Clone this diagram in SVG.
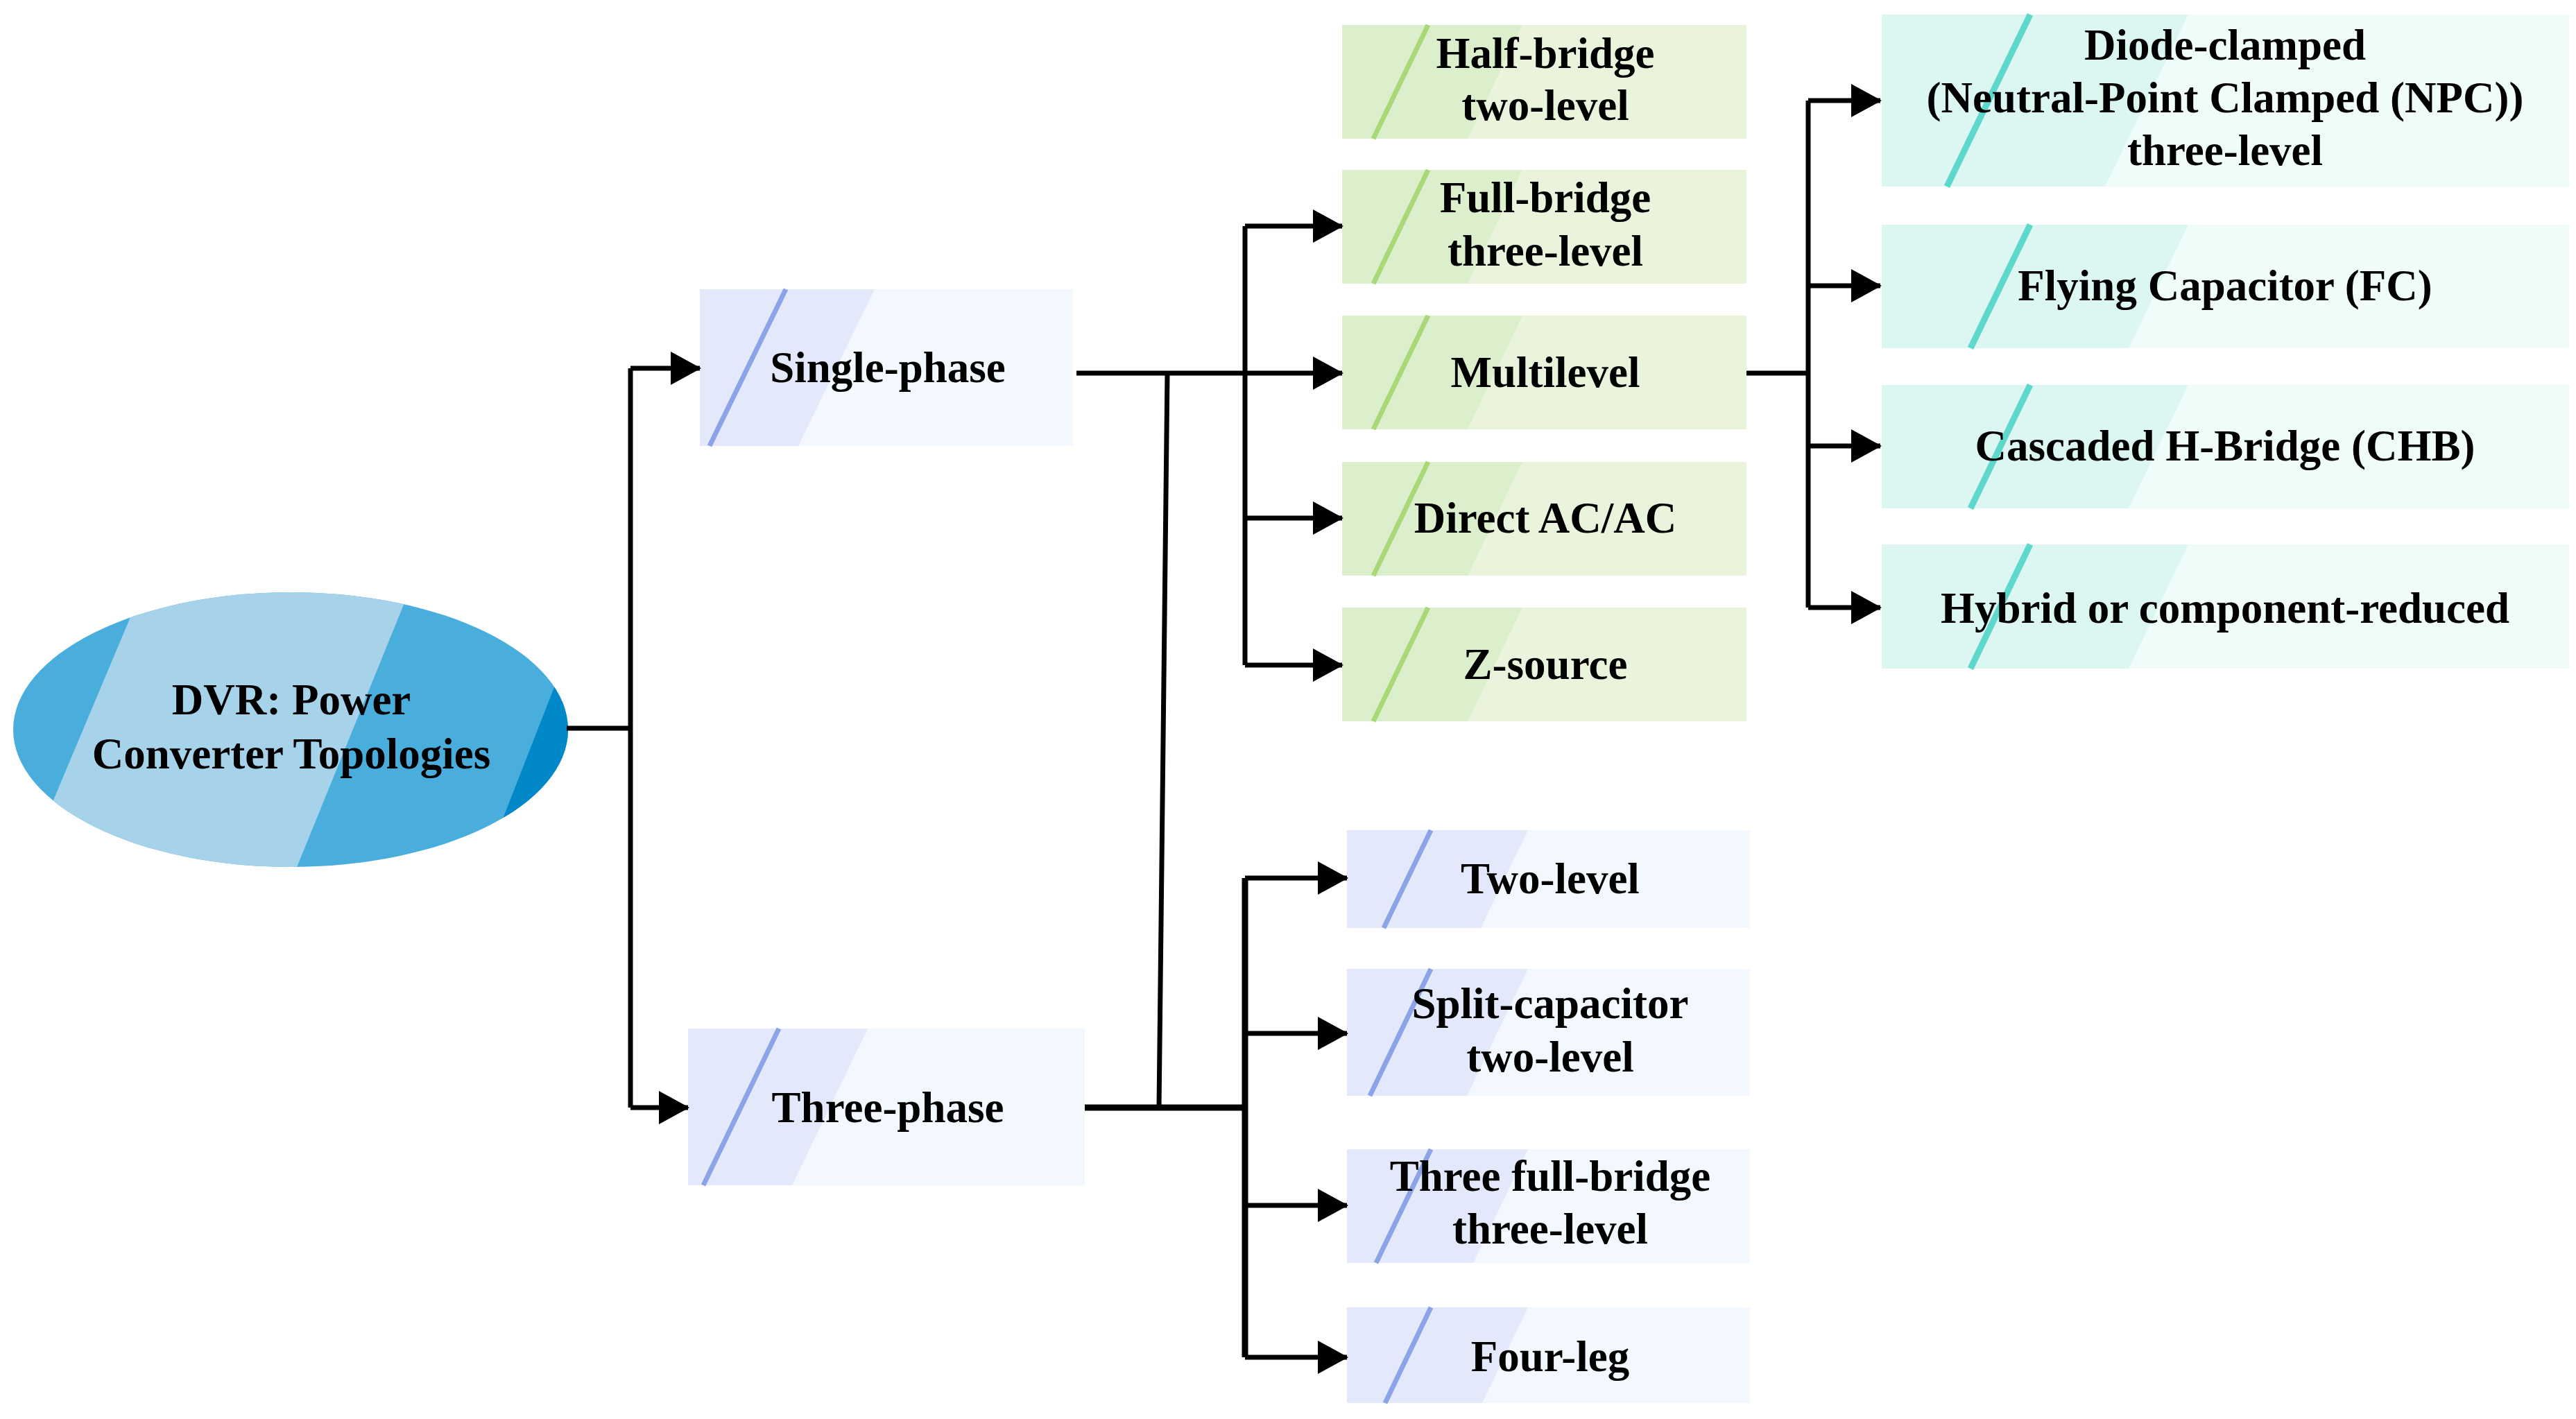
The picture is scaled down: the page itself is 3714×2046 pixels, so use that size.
<svg xmlns="http://www.w3.org/2000/svg" width="3714" height="2046" viewBox="0 0 3714 2046">
<defs>
<marker id="ah" markerUnits="userSpaceOnUse" markerWidth="44" markerHeight="48" refX="42" refY="24" orient="auto"><path d="M0,0 L44,24 L0,48 Z" fill="#000"/></marker>
<clipPath id="ec"><ellipse cx="419" cy="1052" rx="400" ry="198"/></clipPath>
</defs>
<style>
text{font-family:"Liberation Serif",serif;font-weight:bold;font-size:63px;fill:#000;text-anchor:middle}
.c{fill:none;stroke:#000;stroke-width:7}
.a{marker-end:url(#ah)}
.bb{fill:#f3f7fe}.bd{fill:#e3e9fa}.bl{stroke:#8aa4e6;stroke-width:7}
.gb{fill:#eaf4dc}.gd{fill:#dcefcc}.gl{stroke:#a8d878;stroke-width:7}
.tb{fill:#effcfa}.td{fill:#dcf6f2}.tl{stroke:#5ed8cc;stroke-width:9}
</style>
<rect width="3714" height="2046" fill="#fff"/>
<g id="root">
<g clip-path="url(#ec)">
<rect x="0" y="840" width="840" height="430" fill="#4aaedc"/>
<polygon points="209,840 595,840 420,1270 28,1270" fill="#a6d2ea"/>
<polygon points="815,950 840,950 840,1270 690,1270" fill="#0088c8"/>
</g>
<text x="420" y="1030">DVR: Power</text>
<text x="420" y="1108">Converter Topologies</text>
</g>
<g id="single"><rect class="bb" x="1009" y="417" width="538" height="226"/><polygon class="bd" points="1009,417 1261,417 1151,643 1009,643"/><line class="bl" x1="1133" y1="417" x2="1023" y2="643"/><text x="1280" y="551">Single-phase</text></g>
<g id="three"><rect class="bb" x="992" y="1483" width="572" height="226"/><polygon class="bd" points="992,1483 1251,1483 1142,1709 992,1709"/><line class="bl" x1="1123" y1="1483" x2="1014" y2="1709"/><text x="1280" y="1618">Three-phase</text></g>
<g id="half"><rect class="gb" x="1935" y="36" width="583" height="164"/><polygon class="gd" points="1935,36 2195,36 2116,200 1935,200"/><line class="gl" x1="2059" y1="36" x2="1980" y2="200"/><text x="2228" y="98">Half-bridge</text><text x="2228" y="173">two-level</text></g>
<g id="full"><rect class="gb" x="1935" y="245" width="583" height="164"/><polygon class="gd" points="1935,245 2195,245 2116,409 1935,409"/><line class="gl" x1="2059" y1="245" x2="1980" y2="409"/><text x="2228" y="306">Full-bridge</text><text x="2228" y="383">three-level</text></g>
<g id="multi"><rect class="gb" x="1935" y="455" width="583" height="164"/><polygon class="gd" points="1935,455 2195,455 2116,619 1935,619"/><line class="gl" x1="2059" y1="455" x2="1980" y2="619"/><text x="2228" y="558">Multilevel</text></g>
<g id="direct"><rect class="gb" x="1935" y="666" width="583" height="164"/><polygon class="gd" points="1935,666 2195,666 2116,830 1935,830"/><line class="gl" x1="2059" y1="666" x2="1980" y2="830"/><text x="2228" y="768">Direct AC/AC</text></g>
<g id="zsrc"><rect class="gb" x="1935" y="876" width="583" height="164"/><polygon class="gd" points="1935,876 2195,876 2116,1040 1935,1040"/><line class="gl" x1="2059" y1="876" x2="1980" y2="1040"/><text x="2228" y="979">Z-source</text></g>
<g id="npc"><rect class="tb" x="2713" y="21" width="991" height="248"/><polygon class="td" points="2713,21 3155,21 3035,269 2713,269"/><line class="tl" x1="2927" y1="21" x2="2807" y2="269"/><text x="3208" y="86">Diode-clamped</text><text x="3208" y="162">(Neutral-Point Clamped (NPC))</text><text x="3208" y="238">three-level</text></g>
<g id="fc"><rect class="tb" x="2713" y="324" width="991" height="178"/><polygon class="td" points="2713,324 3155,324 3069,502 2713,502"/><line class="tl" x1="2927" y1="324" x2="2841" y2="502"/><text x="3208" y="433">Flying Capacitor (FC)</text></g>
<g id="chb"><rect class="tb" x="2713" y="555" width="991" height="178"/><polygon class="td" points="2713,555 3155,555 3069,733 2713,733"/><line class="tl" x1="2927" y1="555" x2="2841" y2="733"/><text x="3208" y="664">Cascaded H-Bridge (CHB)</text></g>
<g id="hybrid"><rect class="tb" x="2713" y="785" width="991" height="179"/><polygon class="td" points="2713,785 3155,785 3069,964 2713,964"/><line class="tl" x1="2927" y1="785" x2="2841" y2="964"/><text x="3208" y="898">Hybrid or component-reduced</text></g>
<g id="two"><rect class="bb" x="1942" y="1197" width="581" height="141"/><polygon class="bd" points="1942,1197 2203,1197 2135,1338 1942,1338"/><line class="bl" x1="2063" y1="1197" x2="1995" y2="1338"/><text x="2235" y="1288">Two-level</text></g>
<g id="split"><rect class="bb" x="1942" y="1397" width="581" height="183"/><polygon class="bd" points="1942,1397 2203,1397 2115,1580 1942,1580"/><line class="bl" x1="2063" y1="1397" x2="1975" y2="1580"/><text x="2235" y="1468">Split-capacitor</text><text x="2235" y="1545">two-level</text></g>
<g id="tfb"><rect class="bb" x="1942" y="1657" width="581" height="164"/><polygon class="bd" points="1942,1657 2203,1657 2124,1821 1942,1821"/><line class="bl" x1="2063" y1="1657" x2="1984" y2="1821"/><text x="2235" y="1717">Three full-bridge</text><text x="2235" y="1793">three-level</text></g>
<g id="four"><rect class="bb" x="1942" y="1885" width="581" height="138"/><polygon class="bd" points="1942,1885 2203,1885 2137,2023 1942,2023"/><line class="bl" x1="2063" y1="1885" x2="1997" y2="2023"/><text x="2235" y="1977">Four-leg</text></g>
<g id="connectors">
<path class="c" d="M817,1050 H909 M909,531 V1597"/>
<path class="c a" d="M909,531 H1009"/>
<path class="c a" d="M909,1597 H992"/>
<path class="c" d="M1552,538 H1795 M1795,326 V959 M1683,538 L1671,1597"/>
<path class="c a" d="M1795,326 H1935"/>
<path class="c a" d="M1795,538 H1935"/>
<path class="c a" d="M1795,747 H1935"/>
<path class="c a" d="M1795,959 H1935"/>
<path class="c" d="M1564,1597 H1795 M1795,1266 V1957" style="stroke-width:9"/>
<path class="c a" d="M1795,1266 H1942"/>
<path class="c a" d="M1795,1490 H1942"/>
<path class="c a" d="M1795,1738 H1942"/>
<path class="c a" d="M1795,1957 H1942"/>
<path class="c" d="M2518,538 H2607 M2607,145 V876"/>
<path class="c a" d="M2607,145 H2711"/>
<path class="c a" d="M2607,412 H2711"/>
<path class="c a" d="M2607,643 H2711"/>
<path class="c a" d="M2607,876 H2711"/>
</g>
</svg>
